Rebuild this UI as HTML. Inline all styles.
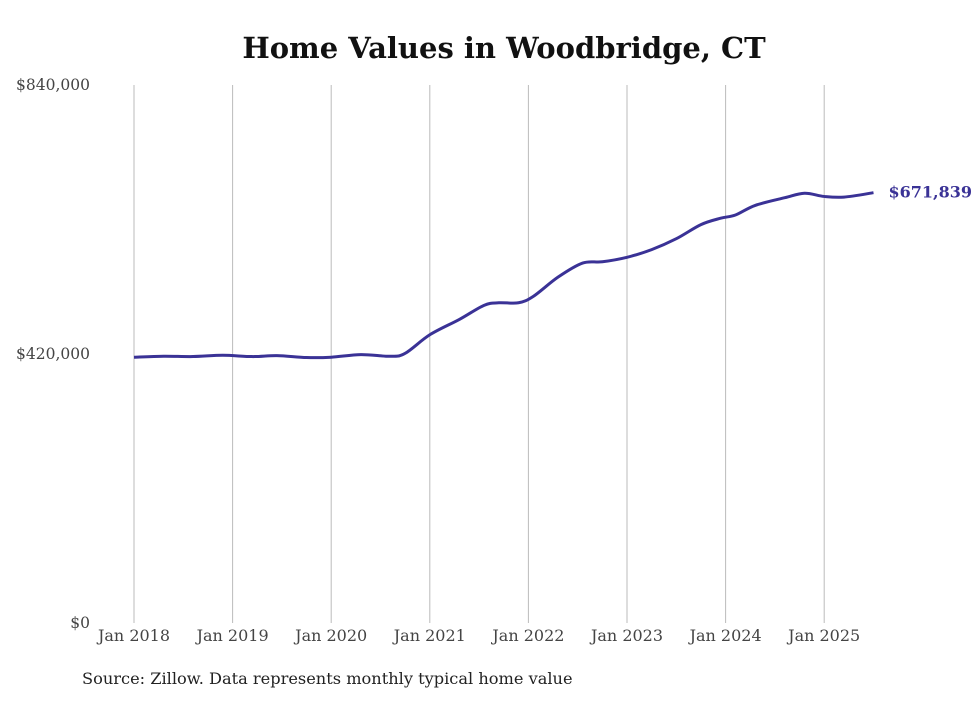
<!DOCTYPE html>
<html><head><meta charset="utf-8"><style>
body{margin:0;background:#fff;width:980px;height:699px;overflow:hidden}
svg text{font-family:"DejaVu Serif","Liberation Serif",serif}
</style></head><body>
<svg width="980" height="699">
<text x="504" y="58" text-anchor="middle" font-size="29" font-weight="bold" fill="#111">Home Values in Woodbridge, CT</text>
<g id="grid"></g><g id="yaxis"></g><g id="xaxis"></g>
<path id="line" fill="none" stroke="#3a3296" stroke-width="3"/>
<text id="endlabel" font-size="16" font-weight="bold" fill="#3a3296"></text>
<text x="82" y="684" font-size="16.2" fill="#222">Source: Zillow. Data represents monthly typical home value</text>
</svg>
<script>
const years=[2018,2019,2020,2021,2022,2023,2024,2025];
const yTicks=[0,420000,840000];
const dates=[2018.0,2018.3,2018.6,2018.9,2019.2,2019.45,2019.75,2020.0,2020.3,2020.6,2020.75,2021.0,2021.3,2021.55,2021.7,2021.9,2022.05,2022.3,2022.55,2022.75,2023.0,2023.25,2023.5,2023.75,2023.95,2024.1,2024.3,2024.6,2024.8,2025.0,2025.2,2025.5];
const values=[415000,416500,416000,418000,416000,417500,414500,415000,419000,416500,421000,450000,474000,496000,500000,500000,510000,540000,562000,564000,571000,583000,600000,622000,632000,637000,652000,664000,671000,666000,665000,671839];
const ns="http://www.w3.org/2000/svg";
const X=t=>134+(t-2018)*98.6;
const Y=v=>623-v/840000*538;
function mk(tag,attrs,parent,txt){const e=document.createElementNS(ns,tag);for(const k in attrs)e.setAttribute(k,attrs[k]);if(txt!==undefined)e.textContent=txt;document.getElementById(parent).appendChild(e);return e;}
years.forEach(y=>{
 const l=mk('line',{x1:X(y),x2:X(y),y1:85,y2:623,stroke:'#bbb','stroke-width':1},'grid');
 
 
 const t=mk('text',{x:X(y),y:641,'text-anchor':'middle','font-size':16,fill:'#444'},'xaxis','Jan '+y);
 
 
});
yTicks.forEach(v=>{
 const t=mk('text',{x:90,y:Y(v)+5,'text-anchor':'end','font-size':15.5,fill:'#444'},'yaxis','$'+v.toLocaleString('en-US'));
 
 
});
const p=dates.map((d,i)=>[X(d),Y(values[i])]);
let d='M'+p[0][0]+','+p[0][1];
for(let i=0;i<p.length-1;i++){
 const p0=p[Math.max(0,i-1)],p1=p[i],p2=p[i+1],p3=p[Math.min(p.length-1,i+2)];
 const c1=[p1[0]+(p2[0]-p0[0])/6,p1[1]+(p2[1]-p0[1])/6];
 const c2=[p2[0]-(p3[0]-p1[0])/6,p2[1]-(p3[1]-p1[1])/6];
 d+=` C${c1[0]},${c1[1]} ${c2[0]},${c2[1]} ${p2[0]},${p2[1]}`;
}
document.getElementById('line').setAttribute('d',d);
const last=p[p.length-1];
const el=document.getElementById('endlabel');
el.setAttribute('x',last[0]+15);el.setAttribute('y',last[1]+5);
el.textContent='$'+values[values.length-1].toLocaleString('en-US');
</script>
</body></html>
